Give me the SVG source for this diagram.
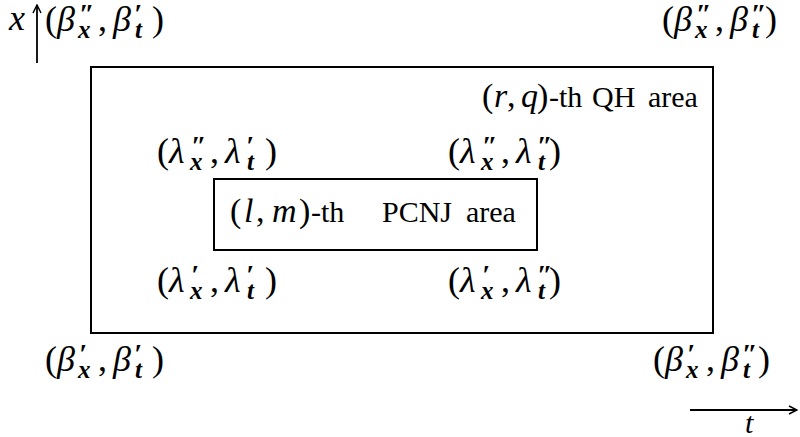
<svg xmlns="http://www.w3.org/2000/svg" width="800" height="437" viewBox="0 0 800 437">
<defs>
<style>
text{font-family:"Liberation Serif","Times New Roman",serif;font-size:30px;fill:#000}
.m{font-size:36px}
.mt{font-size:34px}
.i{font-style:italic}
.p{font-size:28px;font-style:italic;font-weight:bold}
.s{font-size:25px;font-style:italic;font-weight:bold}
.box{fill:none;stroke:#000;stroke-width:2}
.ax{stroke:#000;stroke-width:1.8;fill:none}
</style>
<marker id="ah" viewBox="0 0 10 10" refX="9" refY="5" markerWidth="10" markerHeight="10" markerUnits="userSpaceOnUse" orient="auto"><path d="M1,1 L9,5 L1,9" fill="none" stroke="#000" stroke-width="1.5"/></marker>
</defs>
<rect width="800" height="437" fill="#fff"/>
<g id="connectors">
<line class="ax" x1="37" y1="63" x2="37" y2="5" marker-end="url(#ah)"/>
<line class="ax" x1="690" y1="410" x2="797" y2="410" marker-end="url(#ah)"/>
</g>
<g id="axis-x"><text x="9" y="30" class="i m">x</text></g>
<g id="axis-t"><text x="745" y="433" class="i" font-size="31">t</text></g>
<g id="qh-area">
<rect class="box" x="91" y="67" width="622" height="266"/>
<text y="107"><tspan x="482" class="mt">(</tspan><tspan x="494" class="mt i">r</tspan><tspan x="507" class="mt">,</tspan><tspan x="521" class="mt i">q</tspan><tspan x="537" class="mt">)</tspan><tspan x="549">-th</tspan><tspan x="592">QH</tspan><tspan x="648">area</tspan></text>
</g>
<g id="pcnj-area">
<rect class="box" x="214" y="179" width="323" height="71"/>
<text y="222"><tspan x="230" class="mt">(</tspan><tspan x="244" class="mt i">l</tspan><tspan x="256" class="mt">,</tspan><tspan x="272" class="mt i">m</tspan><tspan x="299" class="mt">)</tspan><tspan x="311">-th</tspan><tspan x="382">PCNJ</tspan><tspan x="466">area</tspan></text>
</g>
<g id="beta-tl"><text class="m" y="31"><tspan x="45">(</tspan><tspan x="57" class="i">β</tspan><tspan x="79" y="23" class="p">″</tspan><tspan x="78" y="38" class="s">x</tspan><tspan x="98" y="31">,</tspan><tspan x="113" class="i">β</tspan><tspan x="134" y="23" class="p">′</tspan><tspan x="135" y="38" class="s">t</tspan><tspan x="152" y="31">)</tspan></text></g>
<g id="beta-tr"><text class="m" y="31"><tspan x="662">(</tspan><tspan x="674" class="i">β</tspan><tspan x="696" y="23" class="p">″</tspan><tspan x="695" y="38" class="s">x</tspan><tspan x="715" y="31">,</tspan><tspan x="730" class="i">β</tspan><tspan x="751" y="23" class="p">″</tspan><tspan x="752" y="38" class="s">t</tspan><tspan x="765" y="31">)</tspan></text></g>
<g id="lambda-tl"><text class="m" y="163"><tspan x="157">(</tspan><tspan x="169" class="i">λ</tspan><tspan x="191" y="155" class="p">″</tspan><tspan x="190" y="170" class="s">x</tspan><tspan x="210" y="163">,</tspan><tspan x="225" class="i">λ</tspan><tspan x="246" y="155" class="p">′</tspan><tspan x="247" y="170" class="s">t</tspan><tspan x="265" y="163">)</tspan></text></g>
<g id="lambda-tr"><text class="m" y="163"><tspan x="448">(</tspan><tspan x="460" class="i">λ</tspan><tspan x="482" y="155" class="p">″</tspan><tspan x="481" y="170" class="s">x</tspan><tspan x="501" y="163">,</tspan><tspan x="516" class="i">λ</tspan><tspan x="537" y="155" class="p">″</tspan><tspan x="538" y="170" class="s">t</tspan><tspan x="549" y="163">)</tspan></text></g>
<g id="lambda-bl"><text class="m" y="292"><tspan x="157">(</tspan><tspan x="169" class="i">λ</tspan><tspan x="191" y="284" class="p">′</tspan><tspan x="190" y="299" class="s">x</tspan><tspan x="210" y="292">,</tspan><tspan x="225" class="i">λ</tspan><tspan x="246" y="284" class="p">′</tspan><tspan x="247" y="299" class="s">t</tspan><tspan x="265" y="292">)</tspan></text></g>
<g id="lambda-br"><text class="m" y="292"><tspan x="448">(</tspan><tspan x="460" class="i">λ</tspan><tspan x="482" y="284" class="p">′</tspan><tspan x="481" y="299" class="s">x</tspan><tspan x="501" y="292">,</tspan><tspan x="516" class="i">λ</tspan><tspan x="537" y="284" class="p">″</tspan><tspan x="538" y="299" class="s">t</tspan><tspan x="549" y="292">)</tspan></text></g>
<g id="beta-bl"><text class="m" y="371"><tspan x="45">(</tspan><tspan x="57" class="i">β</tspan><tspan x="79" y="363" class="p">′</tspan><tspan x="78" y="378" class="s">x</tspan><tspan x="98" y="371">,</tspan><tspan x="113" class="i">β</tspan><tspan x="134" y="363" class="p">′</tspan><tspan x="135" y="378" class="s">t</tspan><tspan x="152" y="371">)</tspan></text></g>
<g id="beta-br"><text class="m" y="371"><tspan x="653">(</tspan><tspan x="665" class="i">β</tspan><tspan x="687" y="363" class="p">′</tspan><tspan x="686" y="378" class="s">x</tspan><tspan x="706" y="371">,</tspan><tspan x="721" class="i">β</tspan><tspan x="742" y="363" class="p">″</tspan><tspan x="743" y="378" class="s">t</tspan><tspan x="758" y="371">)</tspan></text></g>
</svg>
